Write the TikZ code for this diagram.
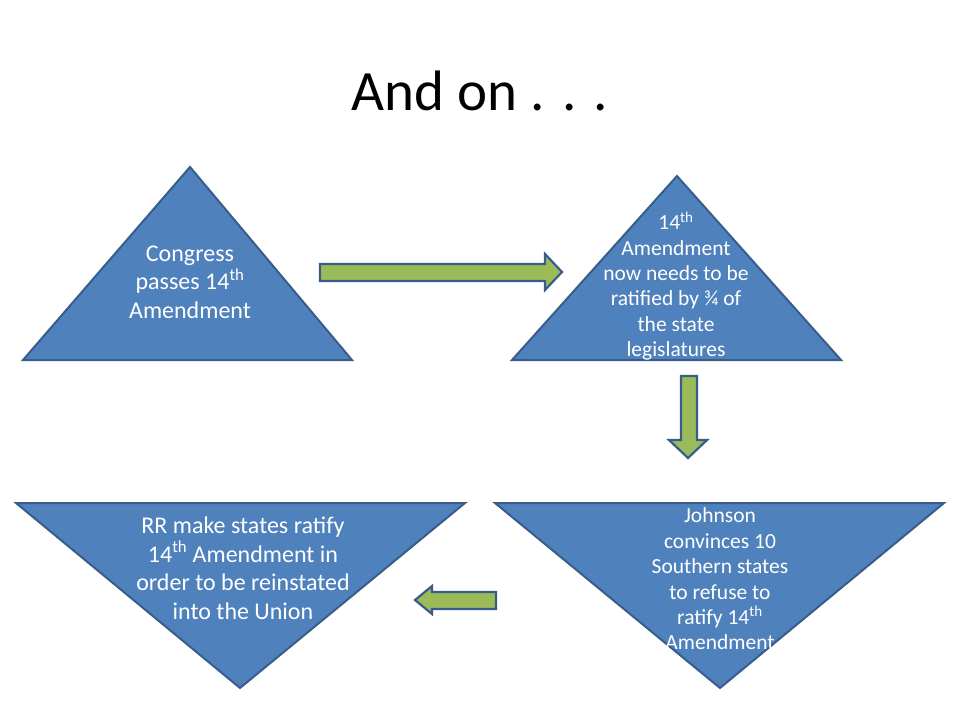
\documentclass[tikz,border=0pt]{standalone}
\usepackage{fontspec}
\setmainfont{Carlito}
\usetikzlibrary{positioning}
\definecolor{triblue}{HTML}{4F81BD}
\definecolor{edgeblue}{HTML}{385D8A}
\definecolor{arrowgreen}{HTML}{9BBB59}

\begin{document}
\begin{tikzpicture}[x=1pt,y=-1pt,
    tri/.style={fill=triblue,draw=edgeblue,line width=2pt,line join=miter},
    blockarrow/.style={fill=arrowgreen,draw=edgeblue,line width=2.2pt},
    tritext/.style={text=white,align=center,inner sep=0pt},
    bigtext/.style={font=\fontsize{24}{28.5}\selectfont},
    smalltext/.style={font=\fontsize{21.5}{25.4}\selectfont}]
    \useasboundingbox (0,0) rectangle (960,720);
    \node[anchor=base,font=\fontsize{57}{70}\selectfont] (title) at (480,110) {And on . . .};
    % triangles
    \draw[tri] (190,167) coordinate (congtop) -- (352,360) -- (23,360) -- cycle;
    \draw[tri] (677,176) coordinate (ratifytop) -- (841,360) -- (512,360) -- cycle;
    \draw[tri] (495,503) -- (944,503) -- (720,688) coordinate (johnbot) -- cycle;
    \draw[tri] (16,503) -- (465,503) -- (240,688) coordinate (rrbot) -- cycle;
    % texts
    \node[tritext,bigtext] (congress) at (190,282)
      {Congress\\passes 14\textsuperscript{th}\\Amendment};
    \node[tritext,smalltext] (ratify) at (676,286)
      {14\textsuperscript{th}\\Amendment\\now needs to be\\ratified by ¾ of\\the state\\legislatures};
    \node[tritext,smalltext] (johnson) at (720,579)
      {Johnson\\convinces 10\\Southern states\\to refuse to\\ratify 14\textsuperscript{th}\\Amendment};
    \node[tritext,bigtext] (rr) at (243,568)
      {RR make states ratify\\14\textsuperscript{th} Amendment in\\order to be reinstated\\into the Union};
    % arrows
    \draw[blockarrow] (320,264) -- (545,264) -- (545,254) -- (562,272)
      -- (545,290) -- (545,281) -- (320,281) -- cycle;
    \draw[blockarrow] (681,376) -- (697,376) -- (697,440) -- (707,440)
      -- (688,458) -- (669,440) -- (681,440) -- cycle;
    \draw[blockarrow] (496,592) -- (432,592) -- (432,586) -- (415,600)
      -- (432,614) -- (432,609) -- (496,609) -- cycle;
\end{tikzpicture}
\end{document}
